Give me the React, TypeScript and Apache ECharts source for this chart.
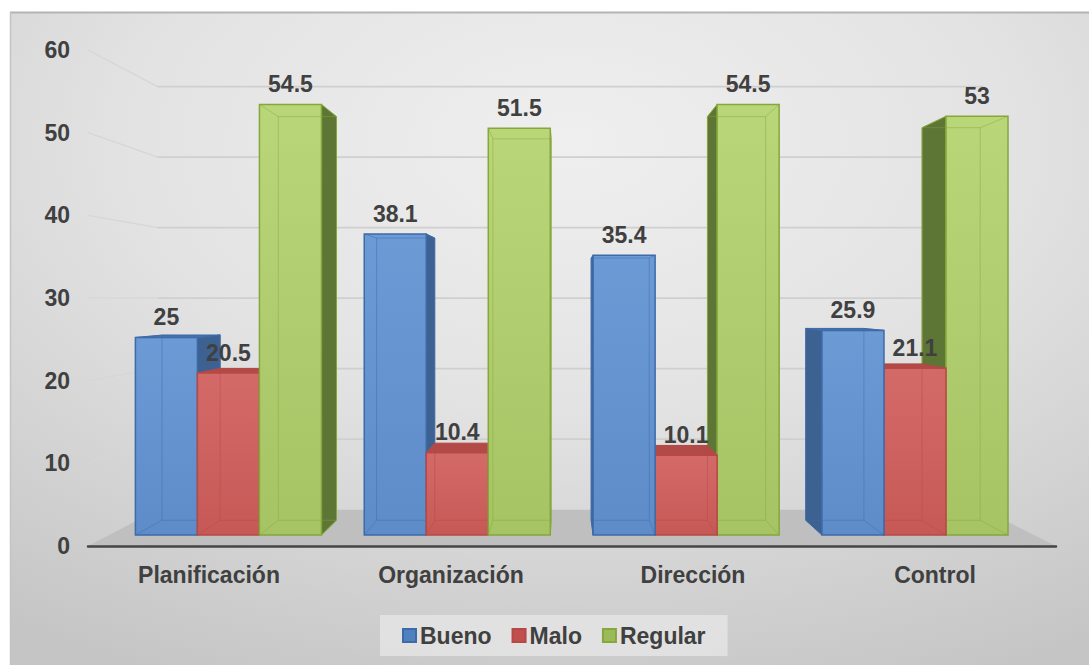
import React, { useEffect, useRef } from "react";
import * as echarts from "echarts";

const categories = ["Planificación", "Organización", "Dirección", "Control"];
const seriesNames = ["Bueno", "Malo", "Regular"];
const bueno = [25, 38.1, 35.4, 25.9];
const malo = [20.5, 10.4, 10.1, 21.1];
const regular = [54.5, 51.5, 54.5, 53];
const yTicks = [0, 10, 20, 30, 40, 50, 60];

const VP = [562, 299];
const K_BAR = 0.9376;
const K_WALL = 0.853;
const FONT = '"Liberation Sans", Arial, sans-serif';

const palette = [
  { front: ["#6c9ad5", "#5d8cc9"], side: "#3d6190", top: "#4a76ad", edge: "#3d6aa8", legend: "#4f81bd" },
  { front: ["#d46a68", "#c65956"], side: "#a3403d", top: "#b24a47", edge: "#b84845", legend: "#c0504d" },
  { front: ["#b9d679", "#a6c464"], side: "#5d7535", top: "#7c9a44", edge: "#85a73c", legend: "#9bbb59" },
];

function proj(x: number, y: number, k: number) {
  return [VP[0] + (x - VP[0]) * k, VP[1] + (y - VP[1]) * k];
}

function makeBarRender(sIdx: number) {
  const c = palette[sIdx];
  return (params: any, api: any) => {
    const cat = api.value(0);
    const v = api.value(1);
    const top = api.coord([cat, v]);
    const base = api.coord([cat, 0]);
    const band = api.size([1, 0])[0];
    const w = band * 0.271;
    const x0 = top[0] + (sIdx - 1.5) * w;
    const x1 = x0 + w;
    const yT = top[1];
    const yB = base[1];
    const bTL = proj(x0, yT, K_BAR);
    const bTR = proj(x1, yT, K_BAR);
    const bBL = proj(x0, yB, K_BAR);
    const bBR = proj(x1, yB, K_BAR);
    const rank = 1000 - Math.round(Math.abs((x0 + x1) / 2 - VP[0]));
    const z = (l: number) => rank * 10 + l;
    const children: any[] = [];
    if (x1 < VP[0]) {
      children.push({
        type: "polygon",
        z2: z(1),
        shape: { points: [[x1, yT], bTR, bBR, [x1, yB]] },
        style: { fill: c.side, stroke: c.edge, lineWidth: 1 },
      });
    } else if (x0 > VP[0]) {
      children.push({
        type: "polygon",
        z2: z(1),
        shape: { points: [[x0, yT], bTL, bBL, [x0, yB]] },
        style: { fill: c.side, stroke: c.edge, lineWidth: 1 },
      });
    }
    if (yT > VP[1]) {
      children.push({
        type: "polygon",
        z2: z(2),
        shape: { points: [[x0, yT], [x1, yT], bTR, bTL] },
        style: { fill: c.top, stroke: c.edge, lineWidth: 1 },
      });
    }
    children.push({
      type: "rect",
      z2: z(3),
      shape: { x: x0, y: yT, width: w, height: yB - yT },
      style: {
        fill: new echarts.graphic.LinearGradient(0, 0, 0, 1, [
          { offset: 0, color: c.front[0] },
          { offset: 1, color: c.front[1] },
        ]),
        stroke: c.edge,
        lineWidth: 1.5,
      },
    });
    const inner = { stroke: c.edge, lineWidth: 1, opacity: 0.45, fill: null };
    children.push({
      type: "polyline",
      z2: z(4),
      shape: { points: [bTL, bTR, bBR, bBL, bTL] },
      style: inner,
    });
    children.push({ type: "line", z2: z(4), shape: { x1: x0, y1: yT, x2: bTL[0], y2: bTL[1] }, style: inner });
    children.push({ type: "line", z2: z(4), shape: { x1: x1, y1: yT, x2: bTR[0], y2: bTR[1] }, style: inner });
    children.push({ type: "line", z2: z(4), shape: { x1: x0, y1: yB, x2: bBL[0], y2: bBL[1] }, style: inner });
    children.push({ type: "line", z2: z(4), shape: { x1: x1, y1: yB, x2: bBR[0], y2: bBR[1] }, style: inner });
    children.push({
      type: "text",
      z2: 100000,
      x: (x0 + x1) / 2,
      y: yT - 9,
      style: {
        text: String(v),
        fill: "#404040",
        font: `bold 23px ${FONT}`,
        align: "center",
        verticalAlign: "bottom",
      },
    });
    return { type: "group", children };
  };
}

function renderWall(params: any, api: any) {
  const v = api.value(1);
  const cs = params.coordSys;
  const L = cs.x;
  const R = cs.x + cs.width;
  const y = api.coord([0, v])[1];
  const bl = proj(L, y, K_WALL);
  const br = proj(R, y, K_WALL);
  if (v === 0) {
    return {
      type: "polygon",
      shape: { points: [[L, y], [R, y], br, bl] },
      style: { fill: "#bfbfbf", stroke: null },
    };
  }
  return {
    type: "group",
    children: [
      {
        type: "polyline",
        shape: { points: [[L, y], bl] },
        style: { stroke: "#d6d6d6", lineWidth: 1.2, fill: null },
      },
      {
        type: "polyline",
        shape: { points: [bl, br] },
        style: { stroke: "#cfcfcf", lineWidth: 1.8, fill: null },
      },
    ],
  };
}

export default function App() {
  const ref = useRef<HTMLDivElement>(null);
  useEffect(() => {
    if (!ref.current) return;
    const chart = echarts.init(ref.current, null, { renderer: "svg" });
    const values = [bueno, malo, regular];
    const option: any = {
      animation: false,
      backgroundColor: "#ffffff",
      graphic: [
        {
          type: "rect",
          z: -10,
          shape: { x: 10, y: 12, width: 1079, height: 653 },
          style: {
            fill: new echarts.graphic.RadialGradient(0.52, 0.2, 0.9, [
              { offset: 0, color: "#efefef" },
              { offset: 0.45, color: "#e3e3e3" },
              { offset: 1, color: "#c5c5c5" },
            ]),
            stroke: null,
          },
        },
        {
          type: "line",
          z: -9,
          shape: { x1: 10, y1: 12.5, x2: 1089, y2: 12.5 },
          style: { stroke: "#b4b4b4", lineWidth: 2 },
        },
        {
          type: "line",
          z: -9,
          shape: { x1: 10.5, y1: 12, x2: 10.5, y2: 665 },
          style: { stroke: "#c4c4c4", lineWidth: 1.5 },
        },
      ],
      legend: {
        data: seriesNames,
        left: 380,
        top: 615,
        padding: [9, 22, 9, 22],
        itemGap: 20,
        itemWidth: 13,
        itemHeight: 13,
        icon: "rect",
        backgroundColor: "rgba(228,228,228,0.85)",
        textStyle: { color: "#404040", fontSize: 23, fontWeight: "bold", fontFamily: FONT, padding: [0, 0, 0, -1] },
      },
      grid: [
        { left: 114, right: 59.6, top: 61, bottom: 130 },
        { left: 88, right: 33, top: 50, bottom: 119 },
      ],
      xAxis: [
        { type: "category", gridIndex: 0, data: categories, show: false },
        {
          type: "category",
          gridIndex: 1,
          data: categories,
          z: 5,
          axisLine: { show: true, lineStyle: { color: "#454545", width: 2.5 } },
          axisTick: { show: false },
          axisLabel: { color: "#404040", fontSize: 23, fontWeight: "bold", fontFamily: FONT, margin: 17 },
          splitLine: { show: false },
        },
      ],
      yAxis: [
        { type: "value", gridIndex: 0, min: 0, max: 60, interval: 10, show: false },
        {
          type: "value",
          gridIndex: 1,
          min: 0,
          max: 60,
          interval: 10,
          axisLine: { show: false },
          axisTick: { show: false },
          splitLine: { show: false },
          axisLabel: { color: "#404040", fontSize: 23, fontWeight: "bold", fontFamily: FONT, margin: 18 },
        },
      ],
      series: [
        {
          type: "custom",
          name: "wall",
          xAxisIndex: 1,
          yAxisIndex: 1,
          z: 1,
          silent: true,
          renderItem: renderWall,
          data: yTicks.map((t) => [0, t]),
          encode: { x: 0, y: 1 },
        },
        ...seriesNames.map((name, s) => ({
          type: "custom",
          name,
          xAxisIndex: 0,
          yAxisIndex: 0,
          z: 3,
          itemStyle: { color: palette[s].legend, borderColor: palette[s].edge, borderWidth: 1 },
          renderItem: makeBarRender(s),
          data: values[s].map((v, i) => [i, v]),
          encode: { x: 0, y: 1 },
        })),
      ],
    };
    chart.setOption(option);
    return () => chart.dispose();
  }, []);
  return (
    <div
      ref={ref}
      style={{ position: "absolute", left: 0, top: 0, width: 1089, height: 665 }}
    />
  );
}
